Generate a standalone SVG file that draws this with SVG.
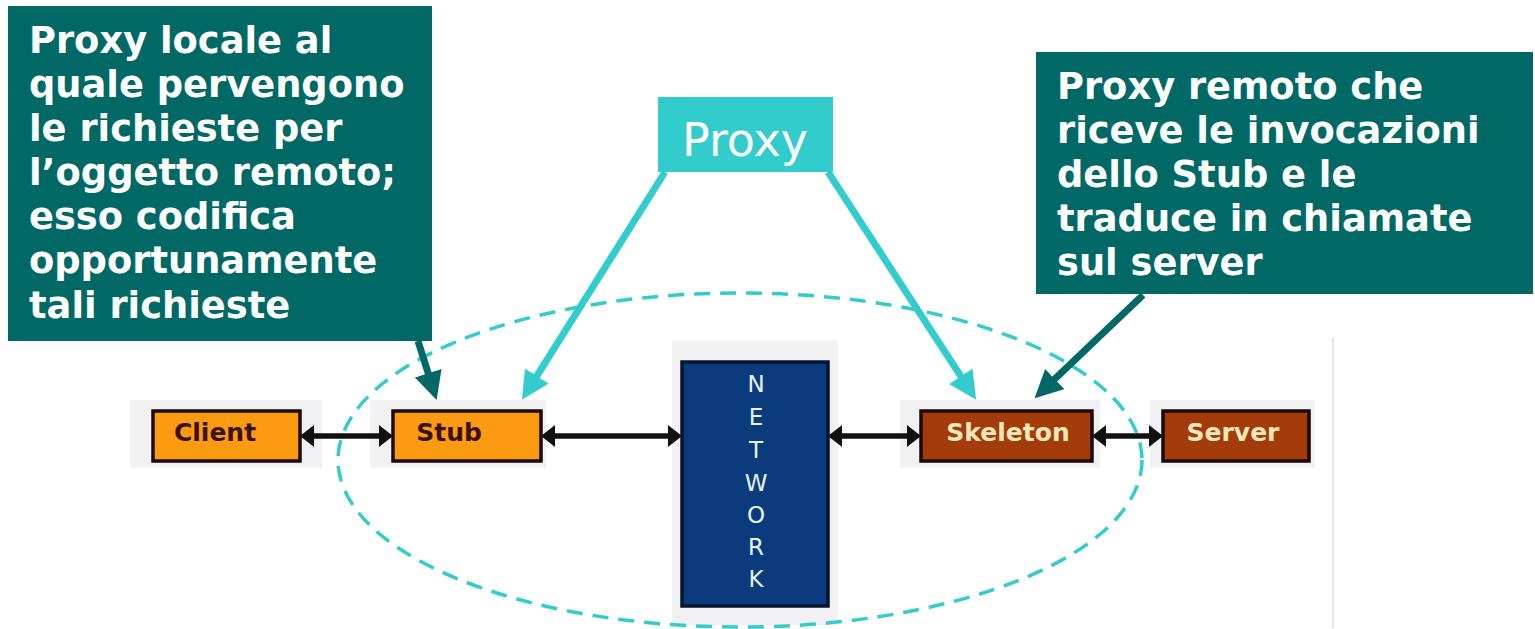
<svg xmlns="http://www.w3.org/2000/svg" width="1535" height="629" viewBox="0 0 1535 629">
<style>
.halo{fill:#F1F1F4}
.orange{fill:#FC9A12;stroke:#1a0a05;stroke-width:3.5}
.brown{fill:#A43B0A;stroke:#1a0a05;stroke-width:3.5}
.lbl{font-family:"DejaVu Sans",Verdana,sans-serif;font-weight:bold;font-size:25px;text-anchor:middle}
.dark{fill:#3A1205}
.cream{fill:#F6E8B8}
.net{font-family:"DejaVu Sans",Verdana,sans-serif;font-size:23px;fill:#E4F4FF;text-anchor:middle}
.conn{stroke:#111;stroke-width:5.5;fill:none}
.callout{fill:#006966}
.ctext{font-family:"DejaVu Sans",Verdana,sans-serif;font-weight:bold;font-size:36.8px;fill:#FFFFFF}
.teal{stroke:#006966;stroke-width:7;fill:none}
.cyan{stroke:#33CCCC;stroke-width:7;fill:none}
</style>
<defs>
<marker id="bh" markerUnits="userSpaceOnUse" markerWidth="16" markerHeight="24" refX="2" refY="11" orient="auto-start-reverse" viewBox="0 0 16 24"><path d="M0 0 L14 11 L0 22 Z" fill="#111"/></marker>
<marker id="th" markerUnits="userSpaceOnUse" markerWidth="30" markerHeight="30" refX="4" refY="14" orient="auto" viewBox="0 0 30 30"><path d="M0 0 L28 14 L0 28 Z" fill="#006966"/></marker>
<marker id="ch" markerUnits="userSpaceOnUse" markerWidth="30" markerHeight="30" refX="4" refY="14" orient="auto" viewBox="0 0 30 30"><path d="M0 0 L28 14 L0 28 Z" fill="#33CCCC"/></marker>
</defs>
<rect width="1535" height="629" fill="#FFFFFF"/>
<line x1="1333" y1="338" x2="1333" y2="628" stroke="#E6E6E6" stroke-width="2"/>
<g id="halos">
<rect class="halo" x="130" y="400" width="192" height="68"/>
<rect class="halo" x="370" y="400" width="176" height="68"/>
<rect class="halo" x="672" y="340" width="166" height="285"/>
<rect class="halo" x="900" y="400" width="200" height="68"/>
<rect class="halo" x="1150" y="400" width="165" height="68"/>
</g>
<g id="connectors">
<line class="conn" x1="312" y1="436" x2="381" y2="436" marker-start="url(#bh)" marker-end="url(#bh)"/>
<line class="conn" x1="553" y1="436" x2="670" y2="436" marker-start="url(#bh)" marker-end="url(#bh)"/>
<line class="conn" x1="840" y1="436" x2="909" y2="436" marker-start="url(#bh)" marker-end="url(#bh)"/>
<line class="conn" x1="1104" y1="436" x2="1151" y2="436" marker-start="url(#bh)" marker-end="url(#bh)"/>
</g>
<g id="client"><rect class="orange" x="153" y="411" width="147" height="50"/><text class="lbl dark" x="215" y="441">Client</text></g>
<g id="stub"><rect class="orange" x="393" y="411" width="148" height="50"/><text class="lbl dark" x="449" y="441">Stub</text></g>
<g id="network"><rect x="682" y="362" width="146" height="244" fill="#0B3B7C" stroke="#06152e" stroke-width="3.5"/>
<text class="net" x="756" y="392">N</text><text class="net" x="756" y="425">E</text><text class="net" x="756" y="458">T</text><text class="net" x="756" y="491">W</text><text class="net" x="756" y="523">O</text><text class="net" x="756" y="555">R</text><text class="net" x="756" y="587">K</text></g>
<g id="skeleton"><rect class="brown" x="921" y="411" width="171" height="50"/><text class="lbl cream" x="1008" y="441">Skeleton</text></g>
<g id="server"><rect class="brown" x="1163" y="411" width="146" height="50"/><text class="lbl cream" x="1233" y="441">Server</text></g>
<g id="proxy-group"><ellipse cx="740" cy="460" rx="402" ry="167" fill="none" stroke="#33CCCC" stroke-width="3.5" stroke-dasharray="16 10"/></g>
<g id="arrows">
<line class="cyan" x1="665" y1="172" x2="534.7" y2="379.4" marker-end="url(#ch)"/>
<line class="cyan" x1="828" y1="172" x2="963" y2="379.6" marker-end="url(#ch)"/>
<line class="teal" x1="418" y1="341" x2="429.4" y2="377" marker-end="url(#th)"/>
<line class="teal" x1="1143" y1="295" x2="1051.9" y2="381.8" marker-end="url(#th)"/>
</g>
<g id="proxy-label"><rect x="658" y="97" width="175" height="75" fill="#33CCCC"/><text x="745" y="156" font-family="'DejaVu Sans',Verdana,sans-serif" font-size="46" fill="#FFFFFF" text-anchor="middle">Proxy</text></g>
<g id="callout-left"><rect class="callout" x="8" y="6" width="424" height="335"/>
<text class="ctext"><tspan x="29" y="53">Proxy locale al</tspan><tspan x="29" y="97">quale pervengono</tspan><tspan x="29" y="141">le richieste per</tspan><tspan x="29" y="185">l’oggetto remoto;</tspan><tspan x="29" y="229">esso codifica</tspan><tspan x="29" y="273">opportunamente</tspan><tspan x="29" y="318">tali richieste</tspan></text></g>
<g id="callout-right"><rect class="callout" x="1036" y="52" width="497" height="242"/>
<text class="ctext"><tspan x="1057" y="99">Proxy remoto che</tspan><tspan x="1057" y="143">riceve le invocazioni</tspan><tspan x="1057" y="187">dello Stub e le</tspan><tspan x="1057" y="231">traduce in chiamate</tspan><tspan x="1057" y="275">sul server</tspan></text></g>
</svg>
